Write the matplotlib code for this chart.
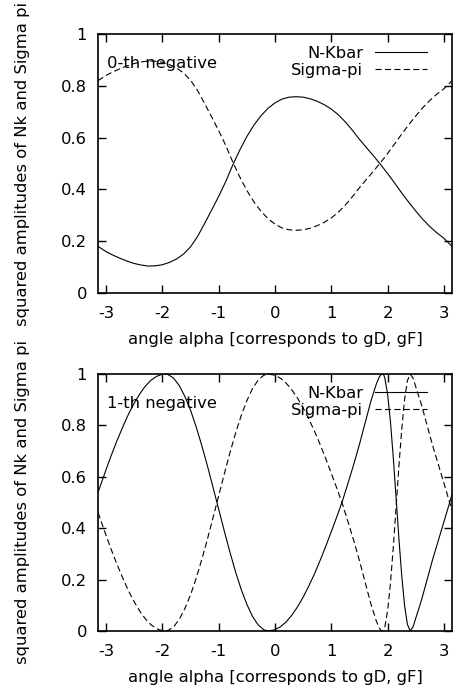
import matplotlib
matplotlib.use("Agg")
import matplotlib.pyplot as plt

plt.rcParams['font.family'] = ['DejaVu Sans']

# ---------------- data ----------------
alpha_top = [-3.1416, -3.0, -2.875, -2.75, -2.625, -2.5, -2.375, -2.25, -2.125, -2.0,
             -1.875, -1.75, -1.625, -1.5, -1.375, -1.25, -1.125, -1.0, -0.875, -0.75,
             -0.625, -0.5, -0.375, -0.25, -0.125, 0.0, 0.125, 0.25, 0.375, 0.5,
             0.625, 0.75, 0.875, 1.0, 1.125, 1.25, 1.375, 1.5, 1.625, 1.75,
             1.875, 2.0, 2.125, 2.25, 2.375, 2.5, 2.625, 2.75, 2.875, 3.0, 3.1416]
nkbar_top = [0.180, 0.160, 0.146, 0.134, 0.123, 0.114, 0.108, 0.104, 0.105, 0.109,
             0.118, 0.131, 0.150, 0.178, 0.218, 0.268, 0.320, 0.373, 0.430, 0.494,
             0.552, 0.604, 0.648, 0.684, 0.713, 0.734, 0.749, 0.756, 0.758, 0.756,
             0.750, 0.740, 0.727, 0.710, 0.688, 0.660, 0.628, 0.593, 0.561, 0.529,
             0.496, 0.461, 0.424, 0.386, 0.350, 0.316, 0.284, 0.256, 0.232, 0.211, 0.180]
sigmapi_top = [0.820, 0.840, 0.854, 0.866, 0.877, 0.886, 0.892, 0.896, 0.895, 0.891,
               0.882, 0.869, 0.850, 0.822, 0.782, 0.732, 0.680, 0.627, 0.570, 0.506,
               0.448, 0.396, 0.352, 0.316, 0.287, 0.266, 0.251, 0.244, 0.242, 0.244,
               0.250, 0.260, 0.273, 0.290, 0.312, 0.340, 0.372, 0.407, 0.439, 0.471,
               0.504, 0.539, 0.576, 0.614, 0.650, 0.684, 0.716, 0.744, 0.768, 0.789, 0.820]

alpha_bot = [-3.1416, -3.0, -2.9, -2.8, -2.7, -2.6, -2.5, -2.4, -2.3, -2.2,
             -2.1, -2.0, -1.95, -1.9, -1.8, -1.7, -1.6, -1.5, -1.4, -1.3,
             -1.2, -1.1, -1.0, -0.9, -0.8, -0.7, -0.6, -0.5, -0.4, -0.3,
             -0.2, -0.12, 0.0, 0.1, 0.2, 0.3, 0.4, 0.5, 0.6, 0.7,
             0.8, 0.9, 1.0, 1.1, 1.2, 1.3, 1.4, 1.5, 1.6, 1.7,
             1.8, 1.85, 1.88, 1.91, 1.93, 1.95, 2.0, 2.05, 2.1, 2.15,
             2.2, 2.25, 2.3, 2.35, 2.4, 2.45, 2.5, 2.6, 2.7, 2.8,
             2.9, 3.0, 3.1, 3.1416]
nkbar_bot = [0.539, 0.627, 0.687, 0.743, 0.795, 0.844, 0.886, 0.923, 0.953, 0.976,
             0.991, 0.999, 1.000, 0.998, 0.984, 0.955, 0.913, 0.860, 0.795, 0.722,
             0.643, 0.559, 0.474, 0.389, 0.307, 0.230, 0.162, 0.104, 0.057, 0.024,
             0.005, 0.000, 0.005, 0.017, 0.036, 0.062, 0.094, 0.132, 0.175, 0.222,
             0.274, 0.329, 0.387, 0.446, 0.508, 0.578, 0.650, 0.727, 0.810, 0.893,
             0.962, 0.988, 0.997, 1.000, 0.996, 0.984, 0.919, 0.812, 0.673, 0.516,
             0.357, 0.214, 0.099, 0.026, 0.000, 0.016, 0.051, 0.120, 0.200, 0.280,
             0.353, 0.426, 0.500, 0.531]
sigmapi_bot = [0.461, 0.373, 0.313, 0.257, 0.205, 0.156, 0.114, 0.077, 0.047, 0.024,
               0.009, 0.001, 0.000, 0.002, 0.016, 0.045, 0.087, 0.140, 0.205, 0.278,
               0.357, 0.441, 0.526, 0.611, 0.693, 0.770, 0.838, 0.896, 0.943, 0.976,
               0.995, 1.000, 0.995, 0.983, 0.964, 0.938, 0.906, 0.868, 0.825, 0.778,
               0.726, 0.671, 0.613, 0.554, 0.492, 0.422, 0.350, 0.273, 0.190, 0.107,
               0.038, 0.012, 0.003, 0.000, 0.004, 0.016, 0.081, 0.188, 0.327, 0.484,
               0.643, 0.786, 0.901, 0.974, 1.000, 0.984, 0.949, 0.880, 0.800, 0.720,
               0.647, 0.574, 0.500, 0.469]

panel_labels = ["0-th negative", "1-th negative"]
series_names = ["N-Kbar", "Sigma-pi"]
xticks = [-3, -2, -1, 0, 1, 2, 3]
yticks = [0, 0.2, 0.4, 0.6, 0.8, 1]
ytick_labels = ["0", "0.2", "0.4", "0.6", "0.8", "1"]
xlabel = "angle alpha [corresponds to gD, gF]"
ylabel = "squared amplitudes of Nk and Sigma pi"

# ---------------- figure ----------------
W, H = 461, 691
fig = plt.figure(figsize=(W / 100, H / 100), dpi=100)
FS = 11.8

def px_axes(left, top, right, bottom):
    return [left / W, 1 - bottom / H, (right - left) / W, (bottom - top) / H]

panels = [
    (px_axes(98, 34, 452, 293), alpha_top, nkbar_top, sigmapi_top, panel_labels[0]),
    (px_axes(98, 374, 452, 631), alpha_bot, nkbar_bot, sigmapi_bot, panel_labels[1]),
]

for rect, xs, n, s, lab in panels:
    ax = fig.add_axes(rect)
    ax.plot(xs, n, color='black', lw=0.8, label=series_names[0])
    ax.plot(xs, s, color='black', lw=0.8, linestyle=(0, (5.5, 3.0)), label=series_names[1])
    ax.set_xlim(-3.1416, 3.1416)
    ax.set_ylim(0, 1)
    ax.set_xticks(xticks)
    ax.set_xticklabels([str(t) for t in xticks])
    ax.set_yticks(yticks)
    ax.set_yticklabels(ytick_labels)
    ax.tick_params(axis='x', direction='in', length=6, width=1.0, top=True,
                   labelsize=FS, pad=9)
    ax.tick_params(axis='y', direction='in', length=6, width=1.0, right=True,
                   labelsize=FS, pad=8)
    for sp in ax.spines.values():
        sp.set_linewidth(1.2)
    ax.set_xlabel(xlabel, fontsize=FS, labelpad=8)
    ax.text(0.025, 0.887, lab, transform=ax.transAxes, fontsize=FS,
            ha='left', va='center')
    ax.legend(loc='upper right', bbox_to_anchor=(0.93, 0.955), frameon=False,
              markerfirst=False, fontsize=FS, handlelength=3.2, handletextpad=0.7,
              labelspacing=0.15, borderpad=0, borderaxespad=0)
    cy = rect[1] + rect[3] / 2
    fig.text(23 / W, cy, ylabel, rotation=90, ha='center', va='center', fontsize=FS)

fig.savefig("out.png", dpi=100)
